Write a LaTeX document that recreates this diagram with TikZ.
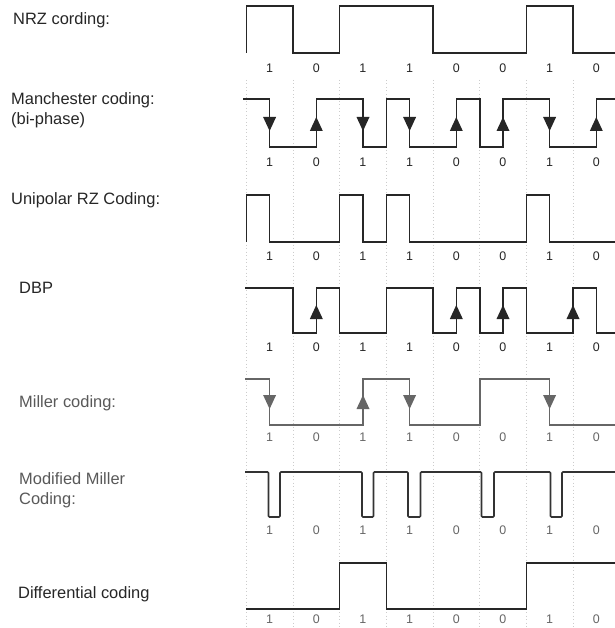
\documentclass[tikz,border=0pt]{standalone}
\usepackage{fontspec}
\setmainfont{Liberation Sans}
\newcommand\arrdn[2]{\fill (#1-6.5,#2-7) -- (#1+6.5,#2-7) -- (#1,#2+7) -- cycle;}
\newcommand\arrup[2]{\fill (#1-6.5,#2+7) -- (#1+6.5,#2+7) -- (#1,#2-7) -- cycle;}
\begin{document}
\begin{tikzpicture}[x=1bp,y=-1bp,
  wave/.style={line width=1.6bp, draw=black!85, line join=miter},
  lbl/.style={anchor=west, align=left, font=\fontsize{16.5}{20}\selectfont, inner sep=0pt, text=black!85},
  bit/.style={font=\fontsize{12.5}{14}\selectfont, inner sep=0pt, text=black!85},
  gridl/.style={draw=black!20, line width=0.6bp, dash pattern=on 1bp off 2.5bp}]
\useasboundingbox (0,0) rectangle (615,628);
\fill[white] (0,0) rectangle (615,628);

% faint bit-boundary grid
\foreach \i in {0,...,7} {\draw[gridl] (246.3+46.67*\i,80) -- (246.3+46.67*\i,628);}

% row titles
\node[lbl] (t1) at (13,20) {NRZ cording:};
\node[lbl] (t2) at (11,110) {Manchester coding:\\(bi-phase)};
\node[lbl] (t3) at (11,200) {Unipolar RZ Coding:};
\node[lbl] (t4) at (19,288) {DBP};
\node[lbl, text=black!65] (t5) at (19,403) {Miller coding:};
\node[lbl, text=black!65] (t6) at (19,490) {Modified Miller\\Coding:};
\node[lbl] (t7) at (18,594) {Differential coding};

% bit labels
\foreach \y/\c [count=\r] in {68/85,162/85,256/85,347/85,437/60,530/60,619/60} {
  \foreach \v [count=\i from 0] in {1,0,1,1,0,0,1,0} {
    \node[bit, text=black!\c] (b\r-\i) at (269.6+46.67*\i,\y) {\v};
  }
}

% 1 NRZ
\draw[wave] (246.3,53) -- (246.3,6) -- (293,6) -- (293,53) -- (339.6,53) -- (339.6,6)
  -- (433,6) -- (433,53) -- (526.3,53) -- (526.3,6) -- (573,6) -- (573,53) -- (615,53);

% 2 Manchester
\draw[wave] (243,99) -- (269.6,99) -- (269.6,147) -- (316.3,147) -- (316.3,99) -- (363,99)
  -- (363,147) -- (386.3,147) -- (386.3,99) -- (409.6,99) -- (409.6,147) -- (456.3,147)
  -- (456.3,99) -- (479.7,99) -- (479.7,147) -- (503,147) -- (503,99) -- (549.6,99)
  -- (549.6,147) -- (596.3,147) -- (596.3,99) -- (615,99);
\begin{scope}[black!85]
\arrdn{269.6}{124} \arrup{316.3}{124} \arrdn{363}{124} \arrdn{409.6}{124}
\arrup{456.3}{124} \arrup{503}{124} \arrdn{549.6}{124} \arrup{596.3}{124}
\end{scope}

% 3 Unipolar RZ
\draw[wave] (246.3,242) -- (246.3,195) -- (269.6,195) -- (269.6,242) -- (339.6,242)
  -- (339.6,195) -- (363,195) -- (363,242) -- (386.3,242) -- (386.3,195) -- (409.6,195)
  -- (409.6,242) -- (526.3,242) -- (526.3,195) -- (549.6,195) -- (549.6,242) -- (615,242);

% 4 DBP
\draw[wave] (245,288) -- (293,288) -- (293,333) -- (316.3,333) -- (316.3,288) -- (339.6,288)
  -- (339.6,333) -- (386.3,333) -- (386.3,288) -- (433,288) -- (433,333) -- (456.3,333)
  -- (456.3,288) -- (479.7,288) -- (479.7,333) -- (503,333) -- (503,288) -- (526.3,288)
  -- (526.3,333) -- (573,333) -- (573,288) -- (596.3,288) -- (596.3,333) -- (615,333);
\begin{scope}[black!85]
\arrup{316.3}{312} \arrup{456.3}{312} \arrup{503}{312} \arrup{573}{312}
\end{scope}

% 5 Miller
\draw[wave, draw=black!60] (245,379) -- (269.6,379) -- (269.6,425) -- (363,425) -- (363,379)
  -- (409.6,379) -- (409.6,425) -- (479.7,425) -- (479.7,379) -- (549.6,379)
  -- (549.6,425) -- (615,425);
\begin{scope}[black!60]
\arrdn{269.6}{402} \arrup{363}{402} \arrdn{409.6}{402} \arrdn{549.6}{402}
\end{scope}

% 6 Modified Miller
\draw[wave, draw=black!80, rounded corners=1bp] (245,472) -- (268.5,472) -- (268.5,517) -- (280,517)
  -- (280,472) -- (362,472) -- (362,517) -- (373.5,517) -- (373.5,472) -- (408,472)
  -- (408,517) -- (420.5,517) -- (420.5,472) -- (481.5,472) -- (481.5,517) -- (494,517)
  -- (494,472) -- (550.5,472) -- (550.5,517) -- (562,517) -- (562,472) -- (615,472);

% 7 Differential
\draw[wave] (246,609) -- (339.6,609) -- (339.6,563) -- (386.3,563) -- (386.3,609)
  -- (526.3,609) -- (526.3,563) -- (615,563);
\end{tikzpicture}
\end{document}
